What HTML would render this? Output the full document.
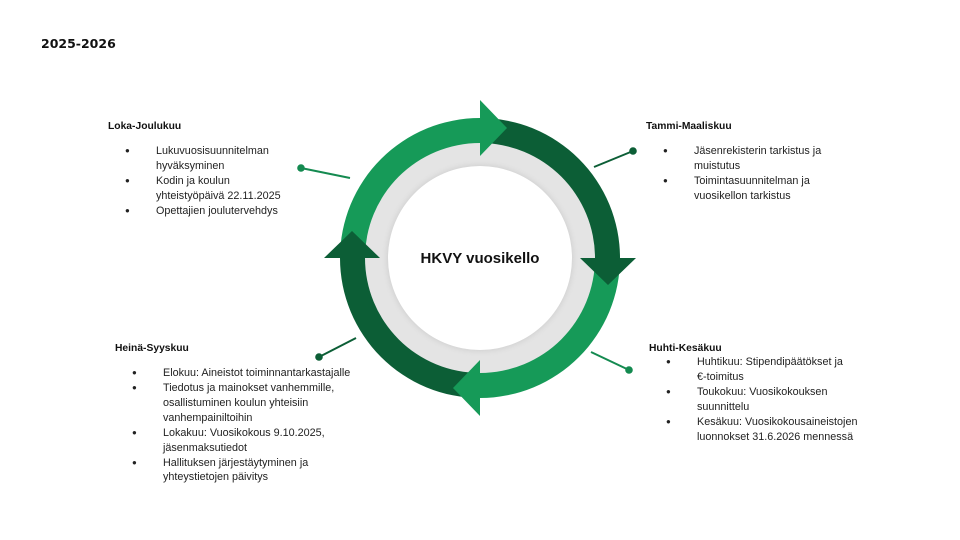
<!DOCTYPE html>
<html><head><meta charset="utf-8"><style>
body{margin:0;background:#fff;}
svg{display:block}
text{font-family:"Liberation Sans",sans-serif;font-size:10.8px;fill:#222}
.h{font-weight:bold;fill:#111;font-size:10.3px}
.b{font-size:8px}
</style></head><body>
<svg width="960" height="540" viewBox="0 0 960 540" xmlns="http://www.w3.org/2000/svg">
<defs>
<filter id="sh" x="-20%" y="-20%" width="140%" height="140%"><feGaussianBlur stdDeviation="3"/></filter>
</defs>
<rect width="960" height="540" fill="#fff"/>
<text x="41" y="48" style="font-family:'DejaVu Sans',sans-serif;font-weight:bold;font-size:12.5px;fill:#111">2025-2026</text>

<circle cx="480" cy="258" r="116" fill="#e4e4e4"/>
<circle cx="480" cy="258" r="93" fill="#cfcfcf" filter="url(#sh)"/>
<circle cx="480" cy="258" r="92" fill="#fff"/>
<path d="M340,258 A140,140 0 0 1 480,118 L480,143 A115,115 0 0 0 365,258 Z" fill="#169a58"/>
<path d="M480,118 A140,140 0 0 1 620,258 L595,258 A115,115 0 0 0 480,143 Z" fill="#0c5e36"/>
<path d="M620,258 A140,140 0 0 1 480,398 L480,373 A115,115 0 0 0 595,258 Z" fill="#169a58"/>
<path d="M480,398 A140,140 0 0 1 340,258 L365,258 A115,115 0 0 0 480,373 Z" fill="#0c5e36"/>
<polygon points="480,100 480,156 507,128" fill="#169a58"/>
<polygon points="636,258 580,258 608,285" fill="#0c5e36"/>
<polygon points="480,416 480,360 453,388" fill="#169a58"/>
<polygon points="324,258 380,258 352,231" fill="#0c5e36"/>
<text x="480" y="263" text-anchor="middle" class="h" style="font-size:15px">HKVY vuosikello</text>

<line x1="301" y1="168" x2="350" y2="178" stroke="#148a50" stroke-width="2"/><circle cx="301" cy="168" r="3.8" fill="#148a50"/>
<line x1="633" y1="151" x2="594" y2="167" stroke="#0c5e36" stroke-width="2"/><circle cx="633" cy="151" r="3.8" fill="#0c5e36"/>
<line x1="629" y1="370" x2="591" y2="352" stroke="#148a50" stroke-width="2"/><circle cx="629" cy="370" r="3.8" fill="#148a50"/>
<line x1="319" y1="357" x2="356" y2="338" stroke="#0c5e36" stroke-width="2"/><circle cx="319" cy="357" r="3.8" fill="#0c5e36"/>

<text x="108" y="129" class="h">Loka-Joulukuu</text>
<text x="125" y="153" class="b">●</text><text x="156" y="154">Lukuvuosisuunnitelman</text>
<text x="156" y="169">hyväksyminen</text>
<text x="125" y="183" class="b">●</text><text x="156" y="184">Kodin ja koulun</text>
<text x="156" y="199">yhteistyöpäivä 22.11.2025</text>
<text x="125" y="213" class="b">●</text><text x="156" y="214">Opettajien joulutervehdys</text>

<text x="646" y="129" class="h">Tammi-Maaliskuu</text>
<text x="663" y="153" class="b">●</text><text x="694" y="154">Jäsenrekisterin tarkistus ja</text>
<text x="694" y="169">muistutus</text>
<text x="663" y="183" class="b">●</text><text x="694" y="184">Toimintasuunnitelman ja</text>
<text x="694" y="199">vuosikellon  tarkistus</text>

<text x="649" y="351" class="h">Huhti-Kesäkuu</text>
<text x="666" y="364" class="b">●</text><text x="697" y="365">Huhtikuu: Stipendipäätökset ja</text>
<text x="697" y="380">€-toimitus</text>
<text x="666" y="394" class="b">●</text><text x="697" y="395">Toukokuu: Vuosikokouksen</text>
<text x="697" y="410">suunnittelu</text>
<text x="666" y="424" class="b">●</text><text x="697" y="425">Kesäkuu: Vuosikokousaineistojen</text>
<text x="697" y="440">luonnokset  31.6.2026 mennessä</text>

<text x="115" y="351" class="h">Heinä-Syyskuu</text>
<text x="132" y="375" class="b">●</text><text x="163" y="376">Elokuu: Aineistot toiminnantarkastajalle</text>
<text x="132" y="390" class="b">●</text><text x="163" y="391">Tiedotus ja mainokset vanhemmille,</text>
<text x="163" y="406">osallistuminen koulun yhteisiin</text>
<text x="163" y="421">vanhempainiltoihin</text>
<text x="132" y="435" class="b">●</text><text x="163" y="436">Lokakuu: Vuosikokous 9.10.2025,</text>
<text x="163" y="451">jäsenmaksutiedot</text>
<text x="132" y="465" class="b">●</text><text x="163" y="466">Hallituksen järjestäytyminen ja</text>
<text x="163" y="480">yhteystietojen päivitys</text>
</svg>
</body></html>
